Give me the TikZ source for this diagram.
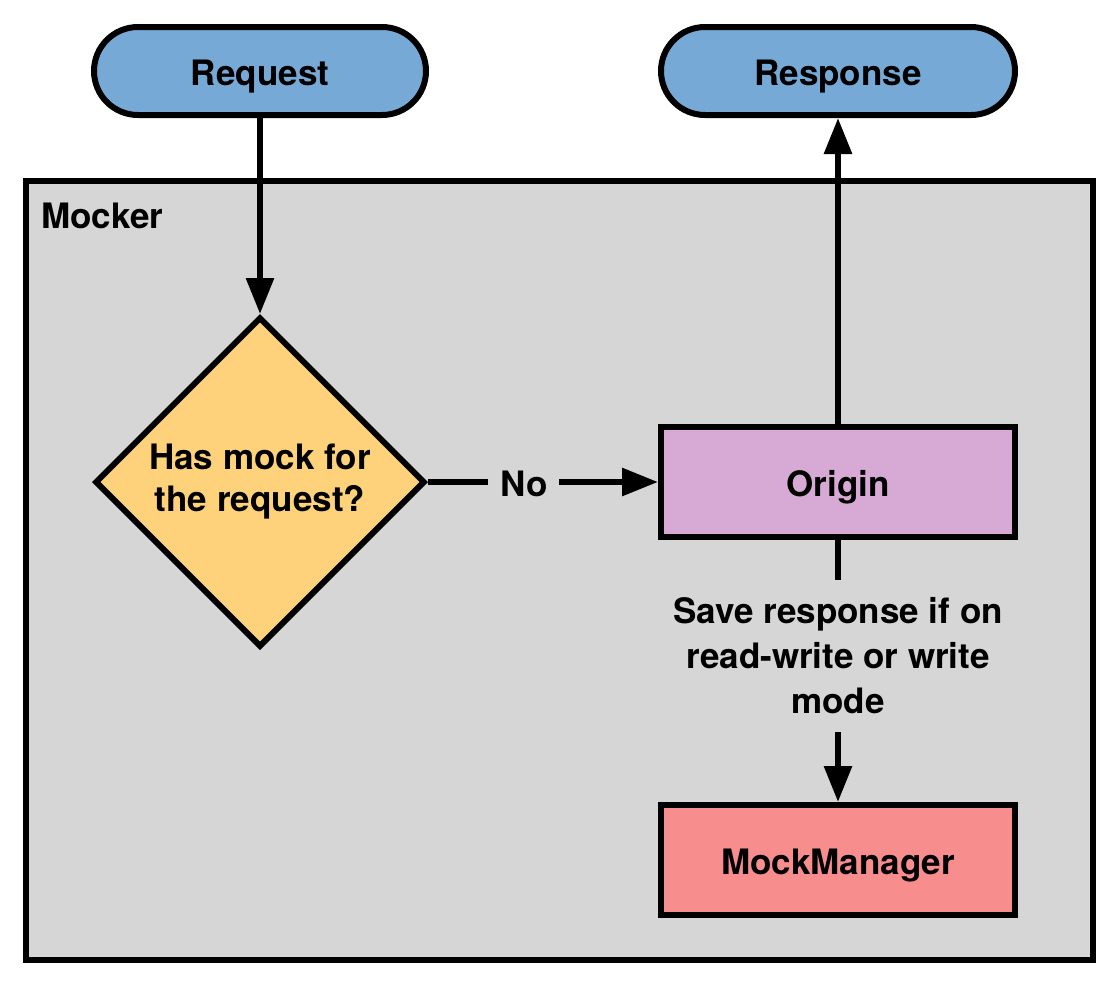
\documentclass[tikz,border=0pt]{standalone}
\usepackage{fontspec}
\setmainfont{TeX Gyre Heros}
\usetikzlibrary{positioning,shapes.geometric,arrows.meta}
\definecolor{pillblue}{HTML}{76A9D6}
\definecolor{mockgray}{HTML}{D6D6D6}
\definecolor{askyellow}{HTML}{FED27B}
\definecolor{originpurple}{HTML}{D7A9D5}
\definecolor{managerred}{HTML}{F78D8D}

\begin{document}
\begin{tikzpicture}[x=0.5pt, y=-0.5pt, line width=3pt,
  font=\fontsize{17.5}{22.5}\selectfont\bfseries,
  pill/.style={draw, fill=pillblue, shape=rectangle, rounded corners=22pt, minimum height=44pt, text height=14pt, text depth=0pt},
  box/.style={draw, fill=#1, shape=rectangle, minimum width=177pt, minimum height=55pt, text height=14pt, text depth=0pt},
  flow/.style={-{Triangle[length=18pt, width=13.5pt]}},
  lbl/.style={fill=mockgray, inner xsep=6pt, inner ysep=9pt}]
\useasboundingbox (0,0) rectangle (1120,986);
\node[draw, fill=mockgray, shape=rectangle, minimum width=533.5pt, minimum height=389.5pt] (mocker) at (559.5,570.5) {};
\node[anchor=base west, inner sep=0pt] (mockerlbl) at (38,228) {Mocker};
\node[draw, fill=askyellow, shape=diamond, aspect=1, minimum width=165pt, minimum height=165pt, inner sep=0pt, align=center, font=\fontsize{17.5}{21}\selectfont\bfseries] (hasmock) at (260,482) {Has mock for\\the request?};
\node[pill, minimum width=166pt, above of=hasmock, node distance=205.5pt] (req) {Request};
\node[box=originpurple, right of=hasmock, node distance=289pt] (orig) {Origin};
\node[pill, minimum width=177pt, above of=orig, node distance=205.5pt] (resp) {Response};
\node[box=managerred, below of=orig, node distance=189pt] (mm) {MockManager};
\draw[flow] (req.south) -- (hasmock.north);
\draw[flow] (hasmock.east) -- node[lbl, pos=0.417, text height=14pt, text depth=0pt] {No} (orig.west);
\draw[flow] (orig.north) -- (resp.south);
\draw[flow] (orig.south) -- node[lbl, pos=0.443, align=center] {Save response if on\\read-write or write\\mode} (mm.north);
\end{tikzpicture}
\end{document}
